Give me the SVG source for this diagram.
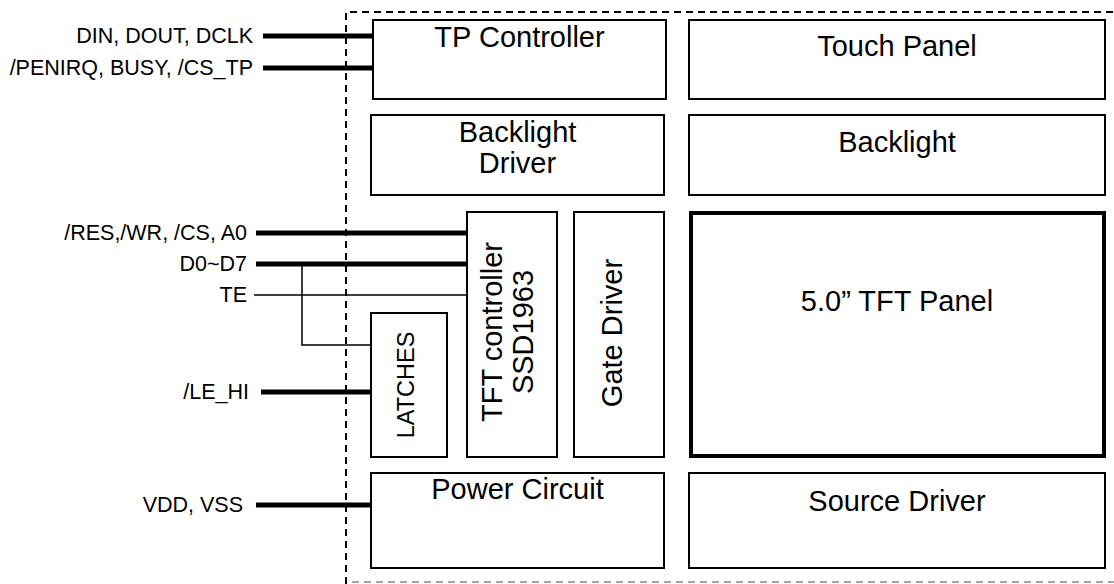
<svg xmlns="http://www.w3.org/2000/svg" width="1114" height="584" viewBox="0 0 1114 584">
<style>
.box{fill:#fff;stroke:#000;stroke-width:2}
.panel{fill:#fff;stroke:#000;stroke-width:4}
.t{font-family:"Liberation Sans",Arial,sans-serif;font-size:29px;fill:#000;text-anchor:middle}
.s{font-family:"Liberation Sans",Arial,sans-serif;font-size:21.5px;fill:#000;text-anchor:end}
.bus{stroke:#000;stroke-width:5;fill:none}
.wire{stroke:#000;stroke-width:1.5;fill:none}
.dash{stroke:#000;stroke-width:2;stroke-dasharray:7,5;fill:none}
</style>
<rect width="1114" height="584" fill="#fff"/>
<g id="boundary">
<path class="dash" d="M346,584 V12 H1114"/>
<path class="dash" d="M352,582 H1114" stroke-opacity="0.35"/>
</g>
<g id="connectors">
<line class="bus" x1="263" y1="36" x2="373" y2="36"/>
<line class="bus" x1="263" y1="68" x2="373" y2="68"/>
<line class="bus" x1="256" y1="233" x2="467" y2="233"/>
<line class="bus" x1="256" y1="264" x2="467" y2="264"/>
<line class="wire" x1="254" y1="295" x2="467" y2="295"/>
<polyline class="wire" points="302,264 302,345 371,345"/>
<line class="bus" x1="261" y1="392" x2="371" y2="392"/>
<line class="bus" x1="256" y1="505" x2="371" y2="505"/>
</g>
<g id="labels">
<text class="s" x="253" y="43">DIN, DOUT, DCLK</text>
<text class="s" x="253" y="75">/PENIRQ, BUSY, /CS_TP</text>
<text class="s" x="247" y="240">/RES,/WR, /CS, A0</text>
<text class="s" x="247" y="271">D0~D7</text>
<text class="s" x="247" y="302">TE</text>
<text class="s" x="249" y="399">/LE_HI</text>
<text class="s" x="243" y="512">VDD, VSS</text>
</g>
<g id="tp-controller">
<rect class="box" x="373" y="20" width="293" height="79"/>
<text class="t" x="519.5" y="47">TP Controller</text>
</g>
<g id="touch-panel">
<rect class="box" x="689" y="20" width="416" height="79"/>
<text class="t" x="897" y="56">Touch Panel</text>
</g>
<g id="backlight-driver">
<rect class="box" x="371" y="115" width="293" height="80"/>
<text class="t" x="517.5" y="142">Backlight</text>
<text class="t" x="517.5" y="173">Driver</text>
</g>
<g id="backlight">
<rect class="box" x="689" y="115" width="416" height="80"/>
<text class="t" x="897" y="152">Backlight</text>
</g>
<g id="latches">
<rect class="box" x="371" y="313" width="76" height="144"/>
<text class="t" style="font-size:23.5px" transform="translate(414,385) rotate(-90)">LATCHES</text>
</g>
<g id="tft-controller">
<rect class="box" x="467" y="212" width="90" height="245"/>
<text class="t" transform="translate(502,332) rotate(-90)">TFT controller</text>
<text class="t" transform="translate(533,332) rotate(-90)">SSD1963</text>
</g>
<g id="gate-driver">
<rect class="box" x="574" y="212" width="90" height="245"/>
<text class="t" transform="translate(622,333) rotate(-90)">Gate Driver</text>
</g>
<g id="tft-panel">
<rect class="panel" x="691" y="213" width="413" height="243"/>
<text class="t" x="897" y="311">5.0” TFT Panel</text>
</g>
<g id="power-circuit">
<rect class="box" x="371" y="473" width="293" height="95"/>
<text class="t" x="517.5" y="499">Power Circuit</text>
</g>
<g id="source-driver">
<rect class="box" x="689" y="473" width="416" height="95"/>
<text class="t" x="897" y="511">Source Driver</text>
</g>
</svg>
